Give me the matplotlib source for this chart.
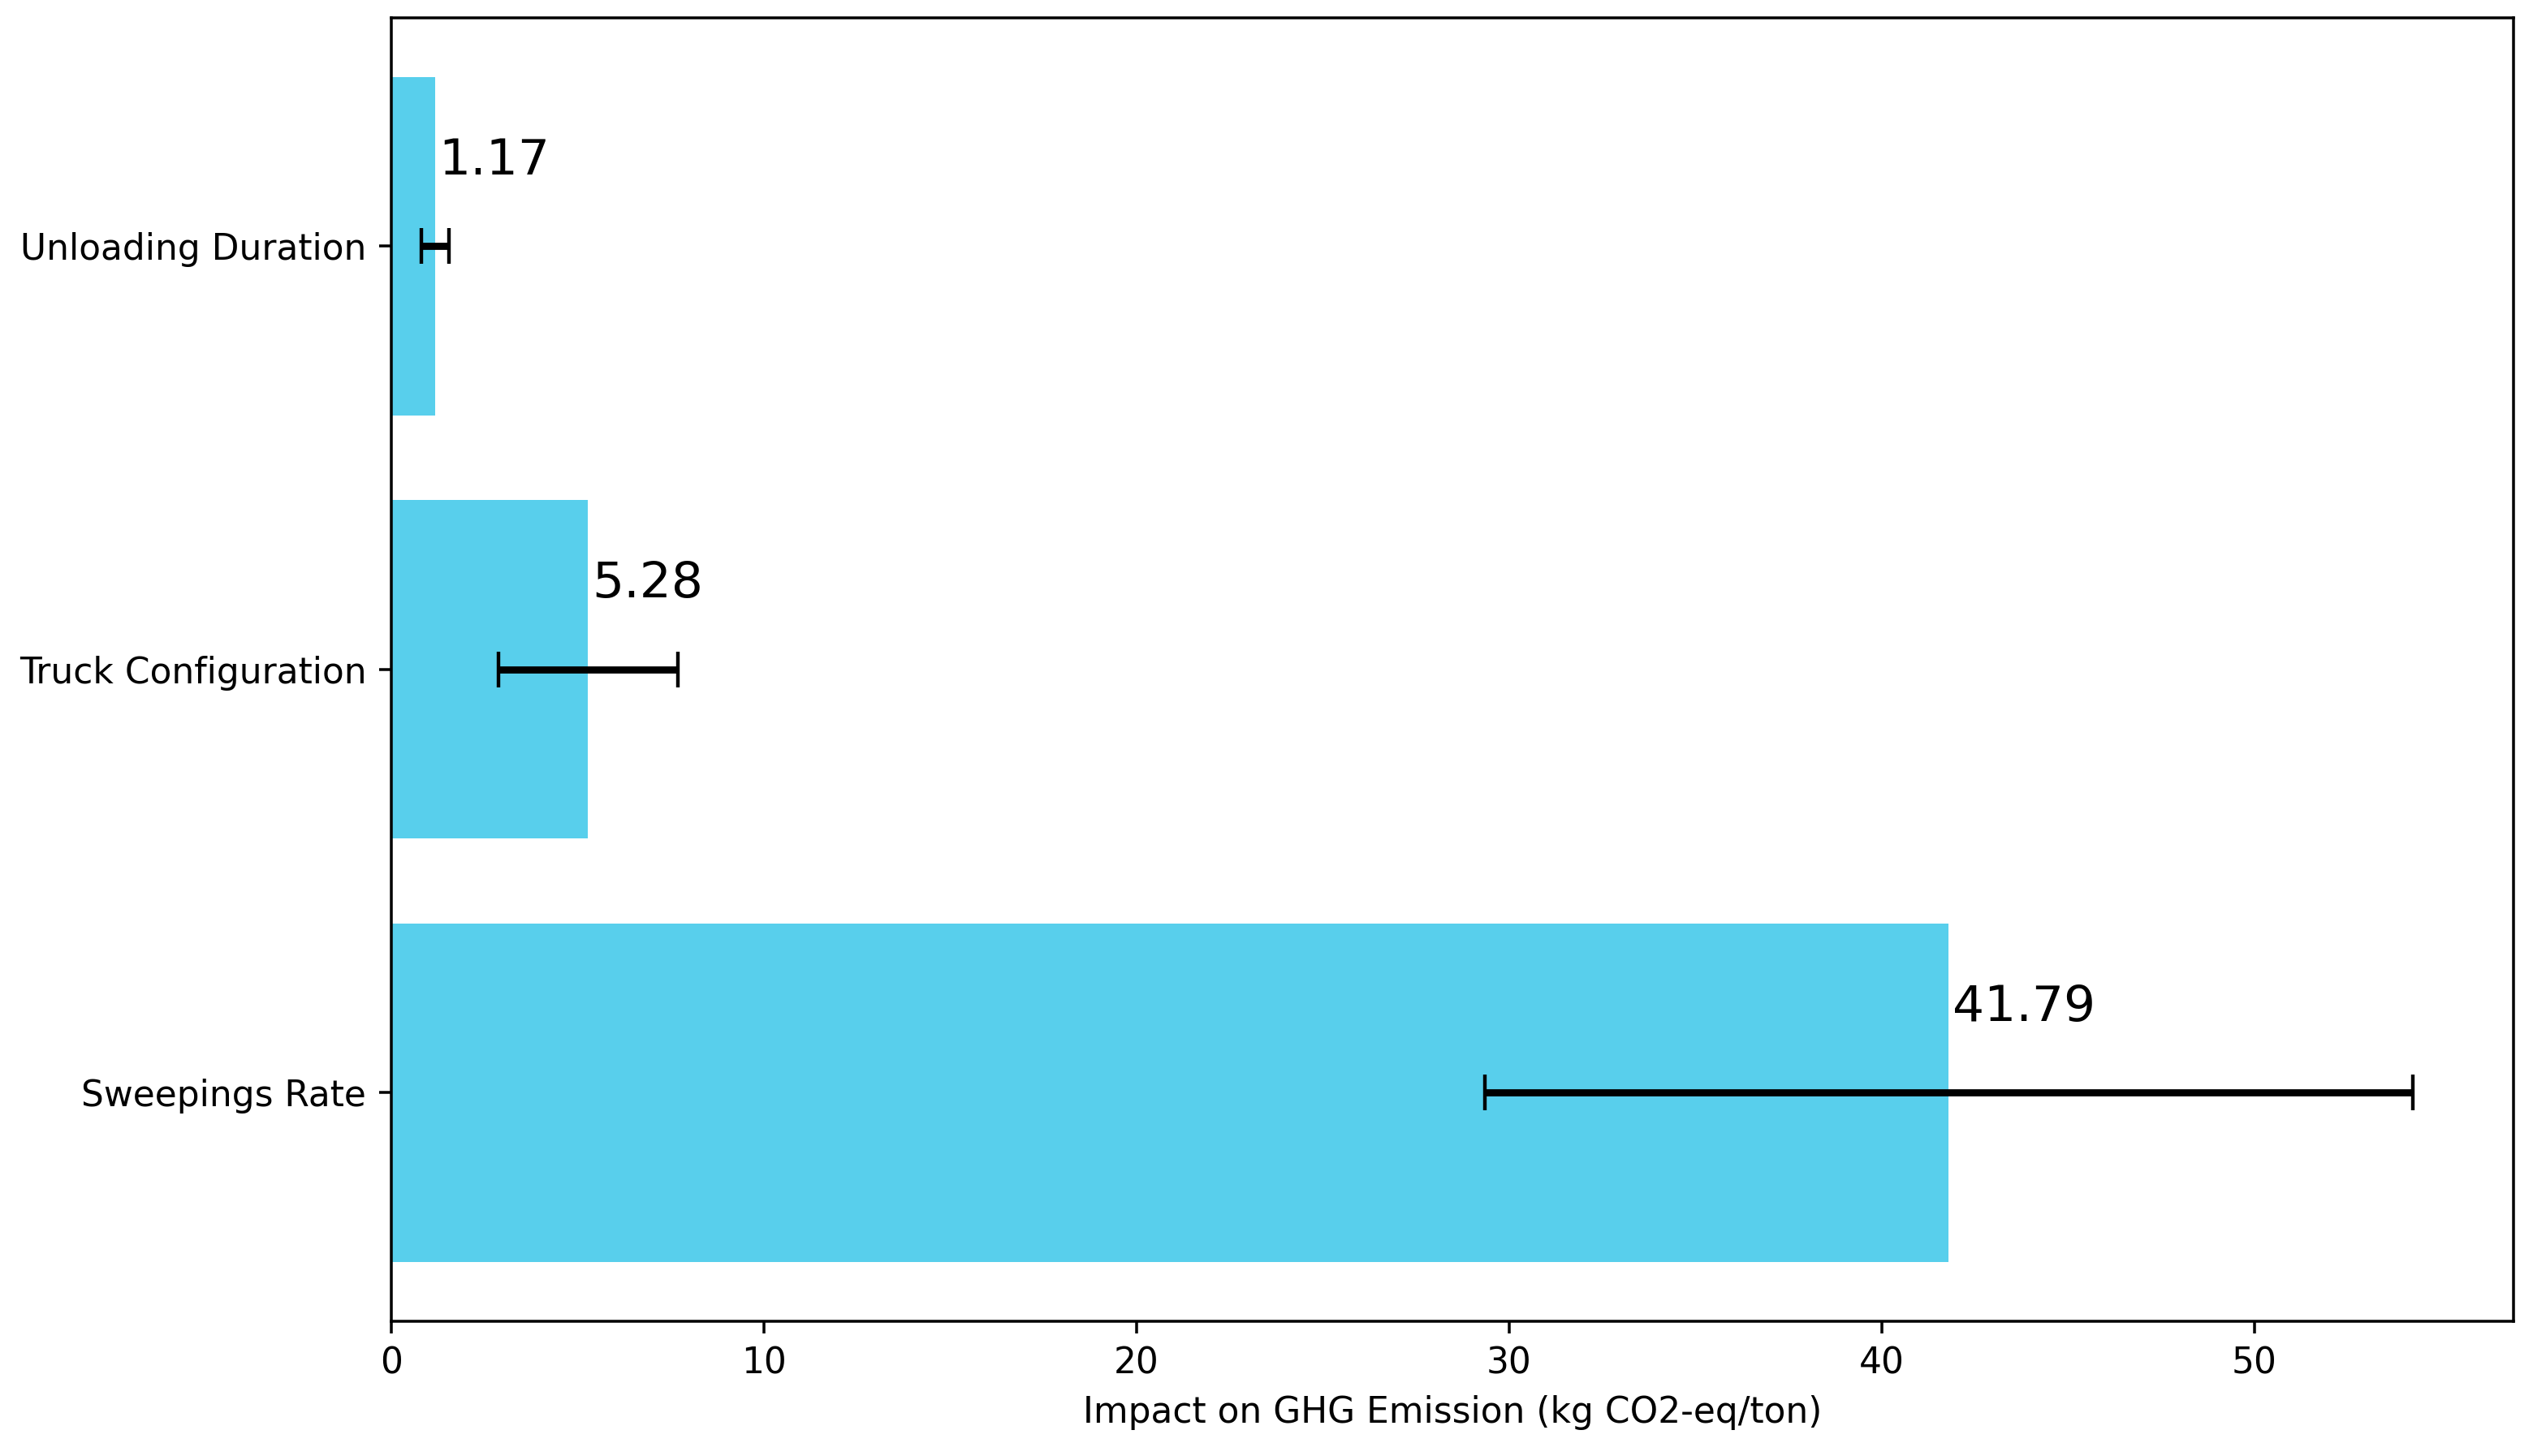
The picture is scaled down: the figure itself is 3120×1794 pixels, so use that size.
import matplotlib
matplotlib.use("Agg")
import matplotlib.pyplot as plt

categories = ["Sweepings Rate", "Truck Configuration", "Unloading Duration"]
impacts = [41.79, 5.28, 1.17]
errors = [12.45, 2.4, 0.37]

DPI = 316
fig = plt.figure(figsize=(3120 / DPI, 1794 / DPI), dpi=DPI)
ax = fig.add_axes([0.1545, 0.0925, 0.8378, 0.8955])

y = list(range(len(categories)))
ax.barh(y, impacts, xerr=errors, color="#58CFEC", height=0.8,
        error_kw=dict(ecolor="black", elinewidth=2, capsize=5))
ax.set_yticks(y)
ax.set_yticklabels(categories)
ax.set_xlabel("Impact on GHG Emission (kg CO2-eq/ton)")

for i, v in enumerate(impacts):
    ax.text(v + 0.1, i + 0.17, f"{v:.2f}", fontsize=14, ha="left", va="baseline")

fig.savefig("out.png", dpi=DPI)
